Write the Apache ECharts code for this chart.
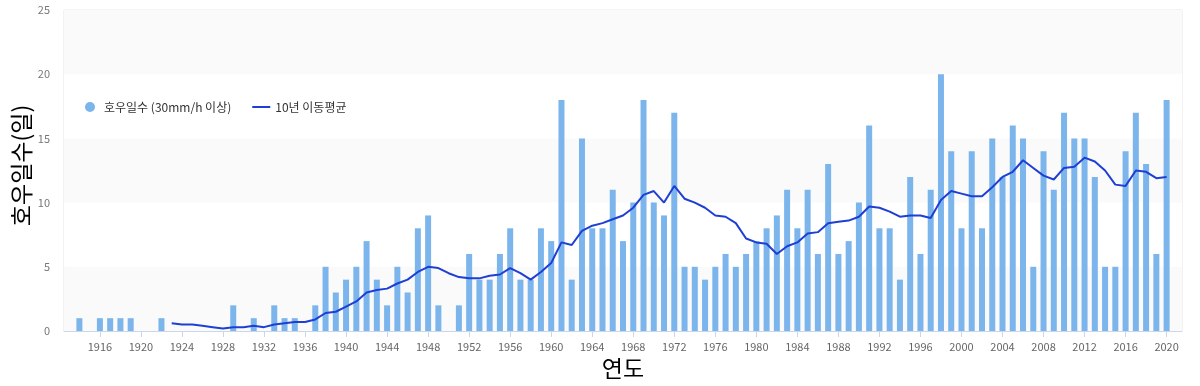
<!DOCTYPE html>
<html>
<head>
<meta charset="utf-8">
<script src="https://cdn.jsdelivr.net/npm/echarts@6/dist/echarts.min.js"></script>
<style>
html,body{margin:0;padding:0;background:#fff;}
#chart{width:1200px;height:386px;}
</style>
</head>
<body>
<div id="chart"></div>
<script>
const years = ['1913','1914','1915','1916','1917','1918','1919','1920','1921','1922','1923','1924','1925','1926','1927','1928','1929','1930','1931','1932','1933','1934','1935','1936','1937','1938','1939','1940','1941','1942','1943','1944','1945','1946','1947','1948','1949','1950','1951','1952','1953','1954','1955','1956','1957','1958','1959','1960','1961','1962','1963','1964','1965','1966','1967','1968','1969','1970','1971','1972','1973','1974','1975','1976','1977','1978','1979','1980','1981','1982','1983','1984','1985','1986','1987','1988','1989','1990','1991','1992','1993','1994','1995','1996','1997','1998','1999','2000','2001','2002','2003','2004','2005','2006','2007','2008','2009','2010','2011','2012','2013','2014','2015','2016','2017','2018','2019','2020','2021'];

// 호우일수 (30mm/h 이상), 1913..2021
const heavyRainDays = [null,1,null,1,1,1,1,null,null,1,null,null,null,null,null,null,2,null,1,null,2,1,1,null,2,5,3,4,5,7,4,2,5,3,8,9,2,null,2,6,4,4,6,8,4,4,8,7,18,4,15,8,8,11,7,10,18,10,9,17,5,5,4,5,6,5,6,7,8,9,11,8,11,6,13,6,7,10,16,8,8,4,12,6,11,20,14,8,14,8,15,12,16,15,5,14,11,17,15,15,12,5,5,14,17,13,6,18,null];

// 10년 이동평균, 1923..2020
const maStartYear = '1923';
const movingAvg = [0.6,0.5,0.5,0.4,0.3,0.2,0.3,0.3,0.4,0.3,0.5,0.6,0.7,0.7,0.9,1.4,1.5,1.9,2.3,3.0,3.2,3.3,3.7,4.0,4.6,5.0,4.9,4.5,4.2,4.1,4.1,4.3,4.4,4.9,4.5,4.0,4.6,5.3,6.9,6.7,7.8,8.2,8.4,8.7,9.0,9.6,10.6,10.9,10.0,11.3,10.3,10.0,9.6,9.0,8.9,8.4,7.2,6.9,6.8,6.0,6.6,6.9,7.6,7.7,8.4,8.5,8.6,8.9,9.7,9.6,9.3,8.9,9.0,9.0,8.8,10.2,10.9,10.7,10.5,10.5,11.2,12.0,12.4,13.3,12.7,12.1,11.8,12.7,12.8,13.5,13.2,12.5,11.4,11.3,12.5,12.4,11.9,12.0];

const yTicks = [0,5,10,15,20,25];

const startIdx = years.indexOf(maStartYear);
const maData = years.map((y, i) => {
  const k = i - startIdx;
  return (k >= 0 && k < movingAvg.length) ? movingAvg[k] : null;
});

const FONT = "'Noto Sans CJK KR', 'Noto Sans', sans-serif";
const showYear = (idx, val) => (+val) % 4 === 0;

const chart = echarts.init(document.getElementById('chart'), null, {renderer: 'canvas'});
chart.setOption({
  animation: false,
  textStyle: {fontFamily: FONT},
  grid: {
    left: 64, right: 18, top: 10, bottom: 55,
    outerBoundsMode: 'none',
    containLabel: false,
    show: true, borderColor: '#e6e6e6', borderWidth: 1, backgroundColor: 'transparent'
  },
  legend: {
    left: 80, top: 96,
    itemWidth: 18, itemHeight: 10, itemGap: 20,
    textStyle: {fontFamily: FONT, fontSize: 12, color: '#333'},
    data: [
      {name: '호우일수 (30mm/h 이상)', icon: 'circle'},
      {name: '10년 이동평균', itemStyle: {opacity: 0, color: 'rgba(0,0,0,0)', borderWidth: 0}}
    ]
  },
  xAxis: {
    type: 'category',
    data: years,
    boundaryGap: true,
    name: '연도',
    nameLocation: 'middle',
    nameGap: 25,
    nameTextStyle: {fontFamily: FONT, fontSize: 23, color: '#000'},
    axisLine: {show: true, lineStyle: {color: '#ccd6eb', width: 1}},
    axisTick: {show: true, alignWithLabel: true, interval: showYear, length: 6, lineStyle: {color: '#ccd6eb'}},
    axisLabel: {interval: showYear, color: '#666', fontSize: 11, fontFamily: FONT, margin: 10},
    splitLine: {show: false}
  },
  yAxis: {
    type: 'value',
    min: yTicks[0], max: yTicks[yTicks.length - 1], interval: 5,
    name: '호우일수(일)',
    nameLocation: 'middle',
    nameGap: 31,
    nameMoveOverlap: false,
    nameTextStyle: {fontFamily: FONT, fontSize: 23, color: '#000', padding: [0, 0, 0, 10]},
    axisLine: {show: false},
    axisTick: {show: false},
    axisLabel: {color: '#777', fontSize: 11, fontFamily: FONT, margin: 14},
    splitLine: {show: false},
    splitArea: {show: true, areaStyle: {color: ['#fafafa', '#ffffff']}}
  },
  series: [
    {
      name: '호우일수 (30mm/h 이상)',
      type: 'bar',
      data: heavyRainDays,
      barWidth: 6,
      itemStyle: {color: '#7cb5ec'}
    },
    {
      name: '10년 이동평균',
      type: 'line',
      data: maData,
      symbol: 'none',
      connectNulls: false,
      lineStyle: {color: '#1d3fd3', width: 2},
      itemStyle: {color: '#1d3fd3'}
    }
  ]
});
</script>
</body>
</html>
